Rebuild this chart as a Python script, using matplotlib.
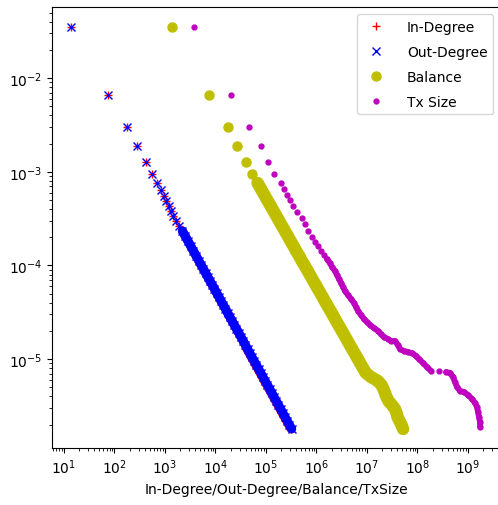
import matplotlib
matplotlib.use('Agg')
import matplotlib.pyplot as plt

# fraccion (eje y) comun para grado y balance
frac = [0.0350, 0.00659, 0.00300, 0.00188, 0.00127, 9.45e-4, 7.58e-4, 6.38e-4,
        5.50e-4, 4.87e-4, 4.31e-4, 3.81e-4, 3.37e-4, 2.98e-4, 2.63e-4, 2.33e-4,
        2.06e-4, 1.82e-4, 1.61e-4, 1.42e-4, 1.26e-4, 1.11e-4, 1.01e-4, 9.15e-5,
        8.30e-5, 7.52e-5, 6.82e-5, 6.18e-5, 5.60e-5, 5.08e-5, 4.60e-5, 4.17e-5,
        3.78e-5, 3.43e-5, 3.11e-5, 2.81e-5, 2.55e-5, 2.31e-5, 2.10e-5, 1.90e-5,
        1.72e-5, 1.56e-5, 1.41e-5, 1.28e-5, 1.16e-5, 1.05e-5, 9.54e-6, 8.65e-6,
        7.84e-6, 7.11e-6, 6.44e-6, 5.84e-6, 5.29e-6, 4.80e-6, 4.35e-6, 3.94e-6,
        3.57e-6, 3.24e-6, 2.93e-6, 2.66e-6, 2.41e-6, 2.19e-6, 1.98e-6, 1.80e-6]

out_deg = [13.8, 74.3, 177, 279, 421, 553, 710, 833,
           955, 1071, 1184, 1309, 1440, 1659, 1920, 2211,
           2512, 2854, 3228, 3668, 4148, 4713, 5211, 5761,
           6368, 7039, 7782, 8642, 9554, 10560, 11680, 12910,
           14270, 15780, 17440, 19280, 21320, 23570, 26050, 28930,
           31990, 35360, 39090, 43210, 47780, 52820, 58400, 64560,
           71380, 78890, 87220, 96430, 107100, 118400, 130900, 144700,
           160000, 176800, 195500, 216100, 238900, 264100, 292000, 322800]

in_deg = [13.8, 74.3, 177, 279, 421, 553, 710, 833,
          955, 1071, 1184, 1309, 1440, 1659, 1920, 2211,
          2512, 2854, 3228, 3668, 4148, 4713, 5211, 5761,
          6368, 7039, 7782, 8642, 9554, 10560, 11680, 12910,
          14270, 15780, 17440, 19280, 21320, 23570, 26050, 28930,
          31990, 35360, 39090, 42000, 46500, 51400, 56800, 62800,
          69400, 76700, 84800, 93700, 104000, 115000, 127000, 140500,
          155500, 171500, 190000, 210000, 232000, 256500, 284000, 314000]

balance = [1376, 7433, 17680, 26650, 40180, 52820, 68190, 81830,
           95540, 108500, 123900, 140800, 160700, 182600, 208300, 236800,
           270200, 307000, 350400, 398100, 454400, 516300, 573300, 636800,
           707200, 785300, 868200, 964300, 1.071e6, 1.189e6, 1.321e6, 1.460e6,
           1.622e6, 1.801e6, 2.000e6, 2.221e6, 2.455e6, 2.727e6, 3.028e6, 3.363e6,
           3.736e6, 4.129e6, 4.586e6, 5.093e6, 5.657e6, 6.281e6, 6.945e6, 7.712e6,
           8.565e6, 9.511e6, 1.200e7, 1.651e7, 1.938e7, 2.122e7, 2.272e7, 2.433e7,
           2.666e7, 3.126e7, 3.585e7, 3.840e7, 4.018e7, 4.402e7, 4.823e7, 5.164e7]

# tamano de transaccion tiene su propia curva
tx_frac = [0.0350, 0.00659, 0.00300, 0.00188, 0.00127, 9.45e-4, 7.58e-4, 6.54e-4,
           5.64e-4, 4.99e-4, 4.31e-4, 3.72e-4, 3.21e-4, 2.77e-4, 2.33e-4, 2.01e-4,
           1.78e-4, 1.61e-4, 1.42e-4, 1.29e-4, 1.17e-4, 1.06e-4, 9.61e-5, 8.71e-5,
           7.90e-5, 7.16e-5, 6.49e-5, 5.88e-5, 5.33e-5, 4.83e-5, 4.38e-5, 3.97e-5,
           3.60e-5, 3.26e-5, 2.96e-5, 2.68e-5, 2.49e-5, 2.31e-5, 2.15e-5, 2.00e-5,
           1.85e-5, 1.72e-5, 1.64e-5, 1.56e-5, 1.56e-5, 1.41e-5, 1.28e-5, 1.22e-5,
           1.19e-5, 1.16e-5, 1.08e-5, 1.00e-5, 9.09e-6, 8.24e-6, 7.46e-6, 7.46e-6,
           7.28e-6, 7.11e-6, 6.44e-6, 5.69e-6, 5.04e-6, 4.57e-6, 4.46e-6, 4.14e-6,
           3.75e-6, 3.40e-6, 3.08e-6, 2.73e-6, 2.41e-6, 2.13e-6, 1.89e-6]

tx_size = [3752, 2.03e4, 4.61e4, 7.96e4, 1.10e5, 1.44e5, 1.98e5, 2.27e5,
           2.61e5, 2.99e5, 3.43e5, 4.11e5, 5.16e5, 5.92e5, 6.79e5, 8.15e5,
           9.34e5, 1.07e6, 1.23e6, 1.41e6, 1.61e6, 1.85e6, 2.03e6, 2.33e6,
           2.55e6, 2.79e6, 3.06e6, 3.35e6, 3.67e6, 4.21e6, 4.82e6, 5.53e6,
           6.06e6, 6.64e6, 7.61e6, 8.72e6, 1.00e7, 1.15e7, 1.38e7, 1.65e7,
           1.89e7, 2.17e7, 2.61e7, 2.99e7, 3.59e7, 4.11e7, 4.50e7, 5.40e7,
           6.48e7, 7.78e7, 9.34e7, 1.07e8, 1.29e8, 1.54e8, 1.85e8, 2.67e8,
           3.67e8, 4.40e8, 5.05e8, 5.53e8, 6.06e8, 6.95e8, 8.33e8, 1.00e9,
           1.20e9, 1.38e9, 1.51e9, 1.58e9, 1.65e9, 1.73e9, 1.73e9]

fig = plt.figure(figsize=(4.98, 5.06), dpi=100)
ax = fig.add_axes([0.1044, 0.1126, 0.8996, 0.8714])

# zona densa: los puntos se enciman y forman una banda
ax.loglog(in_deg[15:], frac[15:], '-', color='r', lw=6.5, solid_capstyle='round')
ax.loglog(in_deg, frac, 'r+', label='In-Degree')
ax.loglog(out_deg[15:], frac[15:], '-', color='b', lw=6.5, solid_capstyle='round')
ax.loglog(out_deg, frac, 'bx', label='Out-Degree')
ax.loglog(balance[6:], frac[6:], '-', color='y', lw=9, solid_capstyle='round')
ax.loglog(balance, frac, 'yo', ms=6.5, label='Balance')
ax.loglog(tx_size[20:55], tx_frac[20:55], '-', color='m', lw=4.2, solid_capstyle='round')
ax.loglog(tx_size[56:], tx_frac[56:], '-', color='m', lw=4.2, solid_capstyle='round')
ax.loglog(tx_size, tx_frac, 'm.', ms=7, label='Tx Size')

ax.set_xlim(5.79, 4.3e9)
ax.set_ylim(1.125e-6, 0.0572)
ax.set_xlabel('In-Degree/Out-Degree/Balance/TxSize')
ax.legend(loc='upper right', labelspacing=0.8, handletextpad=1.2)

fig.savefig('out.png', dpi=100)
